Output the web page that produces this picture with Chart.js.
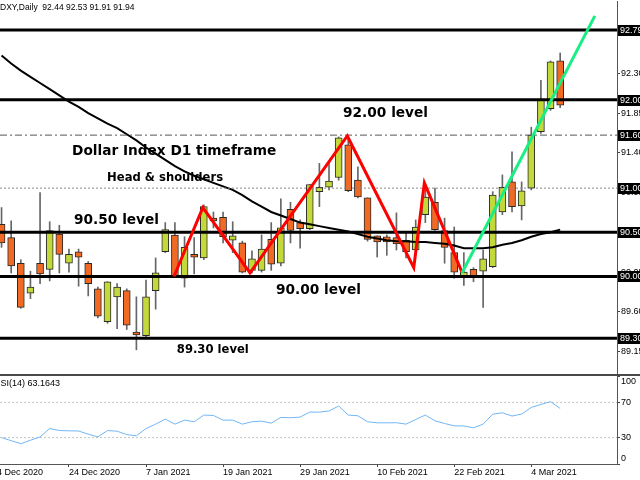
<!DOCTYPE html>
<html>
<head>
<meta charset="utf-8">
<title>DXY Daily</title>
<script src="https://cdn.jsdelivr.net/npm/chart.js@4.4.1/dist/chart.umd.min.js"></script>
<style>
    html, body { margin: 0; padding: 0; background: #fff; }
    #wrap { position: relative; width: 640px; height: 480px; overflow: hidden; }
    #main { position: absolute; left: 0; top: 0; }
    #rsi { position: absolute; left: 0; top: 376px; }
</style>
</head>
<body>
<div id="wrap">
    <canvas id="main" width="640" height="376"></canvas>
    <canvas id="rsi" width="640" height="104"></canvas>
</div>
<script>
// DXY daily bars, 14 Dec 2020 .. 9 Mar 2021
var symbol = 'DXY,Daily';
var opens  = [90.59,90.44,90.15,89.81,90.15,90.08,90.48,90.15,90.28,90.15,89.86,89.49,89.77,89.84,89.37,89.33,89.84,90.28,90.47,89.98,
              90.25,90.21,90.66,90.67,90.41,90.38,90.07,90.07,90.42,90.15,90.76,90.61,90.54,90.96,91.01,91.12,91.49,91.09,90.89,90.46,
              90.45,90.44,90.41,90.30,90.70,90.84,90.52,90.27,89.99,90.08,90.06,90.11,90.73,91.07,90.80,91.00,91.64,91.90,92.44];
var highs  = [90.78,90.63,90.19,90.06,90.95,90.62,90.58,90.31,90.31,90.17,89.88,89.94,89.92,89.86,89.77,89.96,90.21,90.61,90.61,90.45,
              90.44,90.81,90.73,90.73,90.62,90.40,90.29,90.47,90.61,90.88,90.84,90.64,91.04,91.28,91.30,91.58,91.58,91.24,90.89,90.46,
              90.47,90.72,90.50,90.64,91.00,91.00,90.66,90.56,90.27,90.10,90.30,90.96,91.15,91.41,91.07,91.69,92.22,92.44,92.53];
var lows   = [90.33,90.04,89.64,89.75,89.92,89.95,90.04,90.05,89.89,89.78,89.53,89.47,89.41,89.40,89.17,89.32,89.63,90.27,89.99,89.88,
              90.03,90.19,90.55,90.38,90.27,90.04,90.04,90.05,90.07,90.12,90.38,90.32,90.53,90.79,90.98,91.09,90.96,90.89,90.40,90.22,
              90.24,90.30,90.21,90.28,90.61,90.52,90.15,89.98,89.90,89.94,89.65,90.10,90.70,90.73,90.64,90.98,91.62,91.88,91.91];
var closes = [90.38,90.12,89.65,89.88,90.03,90.52,90.25,90.25,90.22,89.92,89.55,89.94,89.88,89.45,89.34,89.77,90.04,90.53,89.99,90.33,
              90.22,90.79,90.63,90.45,90.46,90.05,90.20,90.31,90.14,90.55,90.52,90.54,91.04,91.01,91.08,91.57,90.97,90.90,90.42,90.39,
              90.39,90.37,90.28,90.56,90.90,90.53,90.33,90.05,90.05,90.01,90.20,90.92,91.01,90.79,90.97,91.60,92.00,92.43,91.94];
// moving average (black curve)
var maValues = [92.50,92.41,92.33,92.26,92.19,92.12,92.05,91.98,91.92,91.85,91.79,91.73,91.68,91.61,91.54,91.46,91.39,91.32,91.25,91.19,
                91.14,91.10,91.06,91.02,90.98,90.92,90.85,90.79,90.73,90.69,90.65,90.61,90.59,90.57,90.55,90.53,90.51,90.48,90.45,90.43,
                90.41,90.40,90.40,90.39,90.39,90.38,90.37,90.35,90.32,90.32,90.32,90.33,90.36,90.38,90.41,90.45,90.48,90.50,90.53];
// RSI(14)
var rsiValues = [30.0,26.5,23.1,27.0,30.8,40.3,38.0,37.7,37.5,33.9,30.8,38.0,37.3,33.4,32.0,40.3,45.3,51.0,45.3,49.9,
                 48.0,55.6,55.2,49.9,49.9,45.3,48.0,48.7,46.4,52.9,52.6,53.3,59.0,59.0,60.2,65.9,55.6,54.8,48.0,46.8,
                 46.8,46.9,45.3,50.6,55.6,49.1,46.0,43.4,43.2,41.1,45.3,56.7,58.2,54.5,56.7,64.3,67.7,70.8,63.1643];

// time axis: one label every 8 bars
var xTickBars   = [-1, 7, 15, 23, 31, 39, 47, 55];
var xTickLabels = ['14 Dec 2020', '24 Dec 2020', '7 Jan 2021', '19 Jan 2021', '29 Jan 2021', '10 Feb 2021', '22 Feb 2021', '4 Mar 2021'];
var priceTicks  = [92.75, 92.30, 91.85, 91.40, 90.95, 90.50, 90.05, 89.60, 89.15];
var rsiTicks    = [100, 70, 30, 0];
var rsiLevels   = [70, 30];

// drawn objects
var levels    = [92.79, 92.00, 91.60, 91.00, 90.50, 90.00, 89.30];
var redBars   = [17.9, 20.9, 25.8, 35.9, 42.8, 43.9, 47.8];
var redPrices = [90.00, 90.78, 90.04, 91.59, 90.10, 91.06, 90.05];
var greenBars   = [47.8, 61.6];
var greenPrices = [90.04, 92.95];

// visible window
var xMin = -0.16, xMax = 63.9;
var yMin = 88.885, yMax = 93.118;

var notes = [
    {text: '92.00 level', bar: 35.46, price: 91.84, size: 13.7},
    {text: 'Dollar Index D1 timeframe', bar: 7.32, price: 91.42, size: 13.7},
    {text: 'Head & shoulders', bar: 10.96, price: 91.12, size: 11.6},
    {text: '90.50 level', bar: 7.53, price: 90.63, size: 13.7},
    {text: '90.00 level', bar: 28.5, price: 89.84, size: 13.7},
    {text: '89.30 level', bar: 18.2, price: 89.17, size: 11.6}
];

var BULL = '#c3d83a', BEAR = '#f06a24';

Chart.defaults.font.family = '"Liberation Sans", Arial, sans-serif';
Chart.defaults.font.size = 9;
Chart.defaults.color = '#000';

var f2 = function (v) { return v.toFixed(2); };
var idx = opens.map(function (v, i) { return i; });

var levelStyle = function (lv) {
    if (lv === 91.60) return {color: '#555', width: 1, dash: [7, 3, 2, 3]};
    if (lv === 91.00) return {color: '#888', width: 1, dash: [2, 2]};
    return {color: '#000', width: 3, dash: []};
};

var lineSet = function (data, color, width, dash) {
    return {
        type: 'line', data: data, borderColor: color, borderWidth: width, borderDash: dash || [],
        pointRadius: 0, fill: false, tension: 0
    };
};

var initMain = function () {
    var datasets = [];
    datasets.push(lineSet(greenBars.map(function (b, i) { return {x: b, y: greenPrices[i]}; }), '#19ee82', 3));
    datasets.push(lineSet(redBars.map(function (b, i) { return {x: b, y: redPrices[i]}; }), '#ff0000', 3));
    levels.forEach(function (lv) {
        var s = levelStyle(lv);
        datasets.push(lineSet([{x: xMin, y: lv}, {x: xMax, y: lv}], s.color, s.width, s.dash));
    });
    datasets.push(lineSet(idx.map(function (i) { return {x: i, y: maValues[i]}; }), '#000', 2));
    datasets.push({
        type: 'bar', grouped: false, barThickness: 7, borderSkipped: false,
        data: idx.map(function (i) { return {x: i, y: [opens[i], closes[i]]}; }),
        backgroundColor: function (c) { var i = c.dataIndex; return closes[i] >= opens[i] ? BULL : BEAR; },
        borderColor: '#2a2a2a', borderWidth: 1
    });
    datasets.push({
        type: 'bar', grouped: false, barThickness: 1,
        data: idx.map(function (i) { return {x: i, y: [lows[i], highs[i]]}; }),
        backgroundColor: '#666'
    });

    var decor = {
        id: 'mainDecor',
        afterDraw: function (chart) {
            var ctx = chart.ctx, xs = chart.scales.x, ys = chart.scales.y, area = chart.chartArea;
            var last = opens.length - 1;
            ctx.save();
            ctx.textBaseline = 'middle';
            ctx.textAlign = 'left';
            ctx.fillStyle = '#000';
            ctx.font = '8.5px "Liberation Sans"';
            ctx.fillText(symbol + '  ' + [opens[last], highs[last], lows[last], closes[last]].map(f2).join(' '), 0, 8);

            notes.forEach(function (n) {
                ctx.font = 'bold ' + n.size + 'px "DejaVu Sans"';
                ctx.fillText(n.text, xs.getPixelForValue(n.bar), ys.getPixelForValue(n.price));
            });

            ctx.font = '9px "Liberation Sans"';
            levels.forEach(function (lv) {
                var y = Math.round(ys.getPixelForValue(lv));
                ctx.fillStyle = '#000';
                ctx.fillRect(area.right + 1, y - 5, 30, 11);
                ctx.fillStyle = '#fff';
                ctx.fillText(f2(lv), area.right + 3, y + 1);
            });

            ctx.fillStyle = '#4a4a4a';
            ctx.fillRect(0, area.bottom - 1, chart.width, 2);
            ctx.restore();
        }
    };

    new Chart(document.getElementById('main'), {
        type: 'bar',
        data: {datasets: datasets},
        plugins: [decor],
        options: {
            responsive: false, animation: false, events: [],
            layout: {padding: {top: 1, bottom: 1, left: 0, right: 0}},
            plugins: {legend: {display: false}, tooltip: {enabled: false}},
            scales: {
                x: {type: 'linear', min: xMin, max: xMax, offset: false, display: false, grid: {offset: false}},
                y: {
                    position: 'right', min: yMin, max: yMax, bounds: 'data',
                    afterBuildTicks: function (ax) { ax.ticks = priceTicks.map(function (v) { return {value: v}; }); },
                    afterFit: function (ax) { ax.width = 23; ax.paddingTop = 0; ax.paddingBottom = 0; },
                    ticks: {padding: 1, autoSkip: false, callback: function (v) { return f2(v); }},
                    grid: {drawOnChartArea: false, tickLength: 3, color: '#444'},
                    border: {display: true, color: '#555', width: 1}
                }
            }
        }
    });
};

var initRsi = function () {
    var datasets = [];
    datasets.push(lineSet(idx.map(function (i) { return {x: i, y: rsiValues[i]}; }), '#72b6f6', 1));
    rsiLevels.forEach(function (lv) {
        datasets.push(lineSet([{x: xMin, y: lv}, {x: xMax, y: lv}], '#c4c4c4', 1, [2, 2]));
    });

    var decor = {
        id: 'rsiDecor',
        afterDraw: function (chart) {
            var ctx = chart.ctx, ys = chart.scales.y, area = chart.chartArea;
            ctx.save();
            ctx.font = '9px "Liberation Sans"';
            ctx.fillStyle = '#000';
            ctx.textBaseline = 'middle';
            ctx.textAlign = 'left';
            ctx.fillText('RSI(14) ' + rsiValues[rsiValues.length - 1].toFixed(4), -6, 8);
            rsiTicks.forEach(function (v) {
                var y = ys.getPixelForValue(v);
                if (v === 100) y += 6;
                if (v === 0) y -= 5;
                ctx.fillText(String(v), area.right + 4, y);
            });
            ctx.restore();
        }
    };

    new Chart(document.getElementById('rsi'), {
        type: 'line',
        data: {datasets: datasets},
        plugins: [decor],
        options: {
            responsive: false, animation: false, events: [],
            layout: {padding: 0},
            plugins: {legend: {display: false}, tooltip: {enabled: false}},
            scales: {
                x: {
                    type: 'linear', min: xMin, max: xMax, offset: false, bounds: 'data',
                    afterBuildTicks: function (ax) { ax.ticks = xTickBars.map(function (v) { return {value: v}; }); },
                    afterFit: function (ax) { ax.height = 16; ax.paddingLeft = 0; ax.paddingRight = 0; },
                    ticks: {
                        align: 'start', autoSkip: false, maxRotation: 0, padding: 0,
                        callback: function (v, i) { return xTickLabels[i]; }
                    },
                    grid: {drawOnChartArea: false, tickLength: 3, color: '#444'},
                    border: {display: true, color: '#555', width: 1}
                },
                y: {
                    position: 'right', min: 0, max: 100, bounds: 'data',
                    afterBuildTicks: function (ax) { ax.ticks = rsiTicks.map(function (v) { return {value: v}; }); },
                    afterFit: function (ax) { ax.width = 23; ax.paddingTop = 0; ax.paddingBottom = 0; },
                    ticks: {display: false},
                    grid: {drawOnChartArea: false, tickLength: 3, color: '#444'},
                    border: {display: true, color: '#555', width: 1}
                }
            }
        }
    });
};

initMain();
initRsi();
</script>
</body>
</html>
